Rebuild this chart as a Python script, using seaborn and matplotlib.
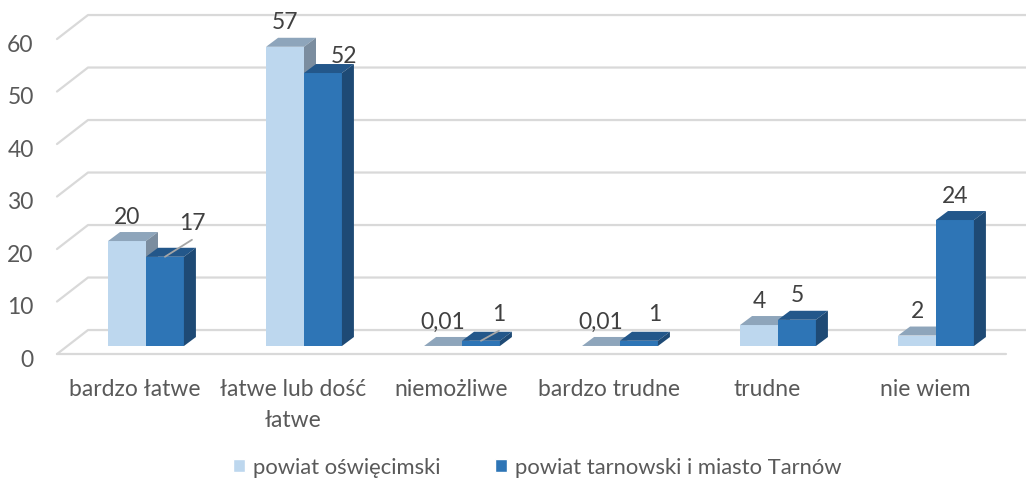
import matplotlib
matplotlib.use('Agg')
import matplotlib.pyplot as plt
import matplotlib.transforms as mtransforms
from matplotlib.patches import Polygon, Patch
from matplotlib.lines import Line2D
import pandas as pd
import seaborn as sns

# Data
categories = ['bardzo łatwe', 'łatwe lub dość\nłatwe', 'niemożliwe',
              'bardzo trudne', 'trudne', 'nie wiem']
series = ['powiat oświęcimski', 'powiat tarnowski i miasto Tarnów']
oswiecim = [20, 57, 0.01, 0.01, 4, 2]
tarnow = [17, 52, 1, 1, 5, 24]
labels_oswiecim = ['20', '57', '0,01', '0,01', '4', '2']
labels_tarnow = ['17', '52', '1', '1', '5', '24']
y_ticks = [0, 10, 20, 30, 40, 50, 60]

df = pd.DataFrame({
    'kategoria': categories * 2,
    'seria': [series[0]] * len(categories) + [series[1]] * len(categories),
    'wartosc': oswiecim + tarnow,
})

# Colours: front, top, side
front = ['#BDD7EE', '#2E75B6']
top = ['#8EA5BB', '#23578A']
side = ['#7B8D9F', '#1E4A75']
grid_col = '#D9D9D9'
text_col = '#595959'
label_col = '#404040'
fs = 16.5

sns.set_theme(style='white')
plt.rcParams['font.family'] = ['Lato', 'DejaVu Sans']

W, H = 1026, 485
fig = plt.figure(figsize=(W / 100, H / 100), dpi=100)
ax = fig.add_axes([67 / W, 1 - 359.1 / H, 948 / W, 350.7 / H])

sns.barplot(data=df, x='kategoria', y='wartosc', hue='seria', hue_order=series,
            palette=front, width=0.48, linewidth=0, saturation=1,
            legend=False, ax=ax)

ax.set_xlim(-0.5, 5.5)
ax.set_ylim(-2.3, 64.5)
ax.set_xlabel('')
ax.set_ylabel('')
ax.set_yticks(y_ticks)
ax.grid(False)
sns.despine(ax=ax, left=True, bottom=True)
ax.tick_params(length=0, labelsize=fs, labelcolor=text_col)
ax.tick_params(axis='y', pad=24)
ax.tick_params(axis='x', pad=14)

for lab in ax.get_yticklabels():
    lab.set_transform(lab.get_transform() + mtransforms.ScaledTranslation(0, -0.11, fig.dpi_scale_trans))
for lab in ax.get_xticklabels():
    lab.set_linespacing(1.6)
    lab.set_transform(lab.get_transform() + mtransforms.ScaledTranslation(-0.11, 0, fig.dpi_scale_trans))

ident = mtransforms.IdentityTransform()
tr = ax.transData
x_left = ax.transAxes.transform((0, 0))[0]
x_right = ax.transAxes.transform((1, 0))[0]

# back wall gridlines with the left side wall diagonal
for v in y_ticks:
    yp = tr.transform((0, v))[1]
    ax.add_line(Line2D([x_left - 10, x_left + 21, W + 5], [yp - 8, yp + 16, yp + 16],
                       transform=ident, color=grid_col, lw=1.6, zorder=0.5, clip_on=False))
y0 = tr.transform((0, 0))[1]
ax.add_line(Line2D([x_left - 10, x_right - 9], [y0 - 8, y0 - 8], transform=ident,
                   color=grid_col, lw=1.6, zorder=0.5, clip_on=False))

# 3D faces + data labels
dx, dy = 12, 9
nudges = {(1, 0): (27, 9, True), (1, 1): (21, -7, False),
          (1, 2): (18, 2, True), (1, 3): (16, 2, False)}
all_labels = [labels_oswiecim, labels_tarnow]
for k, cont in enumerate(ax.containers):
    for i, rect in enumerate(cont):
        x0, w, h = rect.get_x(), rect.get_width(), rect.get_height()
        px0, py0 = tr.transform((x0, 0))
        px1, py1 = tr.transform((x0 + w, h))
        rect.set_zorder(2 + k)
        ax.add_patch(Polygon([(px0, py1), (px1, py1), (px1 + dx, py1 + dy), (px0 + dx, py1 + dy)],
                             closed=True, transform=ident, facecolor=top[k], lw=0,
                             zorder=2.1 + k, clip_on=False))
        ax.add_patch(Polygon([(px1, py0), (px1, py1), (px1 + dx, py1 + dy), (px1 + dx, py0 + dy)],
                             closed=True, transform=ident, facecolor=side[k], lw=0,
                             zorder=2.1 + k, clip_on=False))
        cx = (px0 + px1) / 2
        ndx, ndy, leader = nudges.get((k, i), (0, 0, False))
        lx, ly = cx + ndx, py1 + dy + 16 + ndy
        ax.text(lx, ly, all_labels[k][i], transform=ident, ha='center', va='center',
                fontsize=fs, color=label_col, zorder=6)
        if leader:
            ax.add_line(Line2D([cx, lx], [py1, ly - 17], transform=ident,
                               color='#A6A6A6', lw=1.3, zorder=5, clip_on=False))

handles = [Patch(facecolor=front[0], label=series[0]),
           Patch(facecolor=front[1], label=series[1])]
leg = fig.legend(handles=handles, loc='center', bbox_to_anchor=(537 / W, 1 - 468 / H),
                 ncol=2, frameon=False, fontsize=15.8, handlelength=0.55, handleheight=0.55,
                 handletextpad=0.35, columnspacing=2.5)
for t in leg.get_texts():
    t.set_color(text_col)

fig.savefig('out.png', dpi=100)
